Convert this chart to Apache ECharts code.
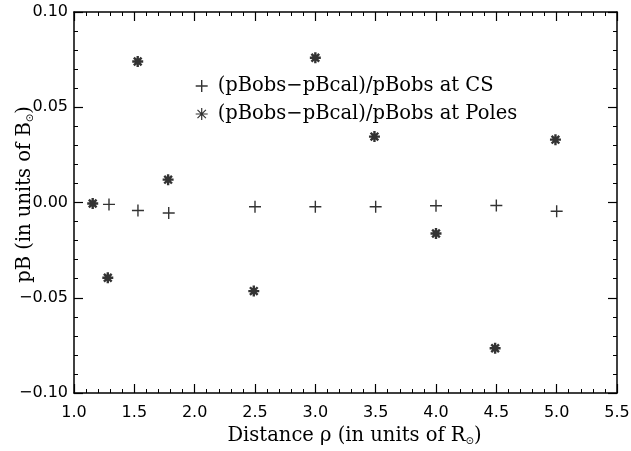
<!DOCTYPE html>
<html><head><meta charset="utf-8">
<script src="https://cdn.jsdelivr.net/npm/echarts@6/dist/echarts.min.js"></script>
<style>html,body{margin:0;padding:0;background:#fff}#c{width:631px;height:451px}</style>
</head><body><div id="c"></div>
<script>
const csX = [1.29, 1.53, 1.785, 2.5, 3.0, 3.5, 4.0, 4.5, 5.0];
const csY = [-0.001, -0.0042, -0.0055, -0.0022, -0.0022, -0.0022, -0.0017, -0.0016, -0.0046];
const polesX = [1.155, 1.28, 1.528, 1.78, 2.49, 3.0, 3.49, 4.0, 4.49, 4.99];
const polesY = [-0.0005, -0.0395, 0.074, 0.012, -0.0465, 0.076, 0.0346, -0.0163, -0.0765, 0.033];
const xTicks = [1.0, 1.5, 2.0, 2.5, 3.0, 3.5, 4.0, 4.5, 5.0, 5.5];
const yTicks = [-0.10, -0.05, 0.00, 0.05, 0.10];
const seriesNames = ['(pBobs\u2212pBcal)/pBobs at CS', '(pBobs\u2212pBcal)/pBobs at Poles'];

const plusPath = 'path://M0,5L10,5M5,0L5,10';
const starPath = 'path://M5,0L5,10M0,5L10,5M1.5,1.5L8.5,8.5M8.5,1.5L1.5,8.5';
const serif = '"DejaVu Serif", "Liberation Serif", serif';
const sans = '"DejaVu Sans", "Liberation Sans", sans-serif';

const axisCommon = {
  axisLine: {show: true, onZero: false, lineStyle: {color: '#000', width: 1.5}},
  axisTick: {show: true, inside: true, length: 9, lineStyle: {color: '#000', width: 1.2}},
  minorTick: {show: true, splitNumber: 5, length: 4, lineStyle: {color: '#000', width: 1}},
  splitLine: {show: false}
};
const xBase = Object.assign({type: 'value', min: xTicks[0], max: xTicks[xTicks.length-1], interval: 0.5}, axisCommon);
const yBase = Object.assign({type: 'value', min: yTicks[0], max: yTicks[yTicks.length-1], interval: 0.05}, axisCommon);
const titleRich = {
  t: {fontFamily: serif, fontSize: 19.5, color: '#000'},
  s: {fontFamily: sans, fontSize: 10, color: '#000', verticalAlign: 'bottom', padding: [9, 0, 0, 0]},
  gx: {width: 18},
  gy: {width: 16}
};

const chart = echarts.init(document.getElementById('c'), null, {renderer: 'canvas'});
chart.setOption({
  backgroundColor: '#fff',
  animation: false,
  grid: {left: 74, right: 14, top: 12, bottom: 58, containLabel: false, outerBoundsMode: 'none'},
  legend: {
    orient: 'vertical', left: 190, top: 71, itemGap: 8,
    itemWidth: 12, itemHeight: 12,
    textStyle: {fontFamily: serif, fontSize: 19.5, color: '#000', padding: [0, 0, 0, 5]},
    data: [
      {name: seriesNames[0], icon: plusPath, itemStyle: {color: 'transparent', borderColor: '#000', borderWidth: 1.4}},
      {name: seriesNames[1], icon: starPath, itemStyle: {color: 'transparent', borderColor: '#000', borderWidth: 1.2}}
    ]
  },
  xAxis: [
    Object.assign({}, xBase, {
      position: 'bottom',
      name: '{gx|}{t|Distance \u03C1 (in units of R}{s|\u2299}{t|)}',
      nameLocation: 'middle', nameGap: 33, nameMoveOverlap: false,
      nameTextStyle: {rich: titleRich},
      axisLabel: {margin: 12, fontFamily: sans, fontSize: 16, color: '#000', formatter: v => v.toFixed(1)}
    }),
    Object.assign({}, xBase, {position: 'top', axisLabel: {show: false}})
  ],
  yAxis: [
    Object.assign({}, yBase, {
      position: 'left',
      name: '{gy|}{t|pB (in units of B}{s|\u2299}{t|)}',
      nameLocation: 'middle', nameGap: 39, nameRotate: 90, nameMoveOverlap: false,
      nameTextStyle: {rich: titleRich},
      axisLabel: {margin: 6, fontFamily: sans, fontSize: 16, color: '#000', formatter: v => v.toFixed(2).replace('-', '\u2212')}
    }),
    Object.assign({}, yBase, {position: 'right', axisLabel: {show: false}})
  ],
  series: [
    {
      name: seriesNames[0], type: 'scatter', xAxisIndex: 0, yAxisIndex: 0,
      symbol: plusPath, symbolSize: 12,
      itemStyle: {color: 'transparent', borderColor: '#000', borderWidth: 1.4},
      data: csX.map((x, i) => [x, csY[i]])
    },
    {
      name: seriesNames[1], type: 'scatter', xAxisIndex: 0, yAxisIndex: 0,
      symbol: starPath, symbolSize: 11,
      itemStyle: {color: 'transparent', borderColor: '#000', borderWidth: 2.4},
      data: polesX.map((x, i) => [x, polesY[i]])
    }
  ]
});
</script></body></html>
